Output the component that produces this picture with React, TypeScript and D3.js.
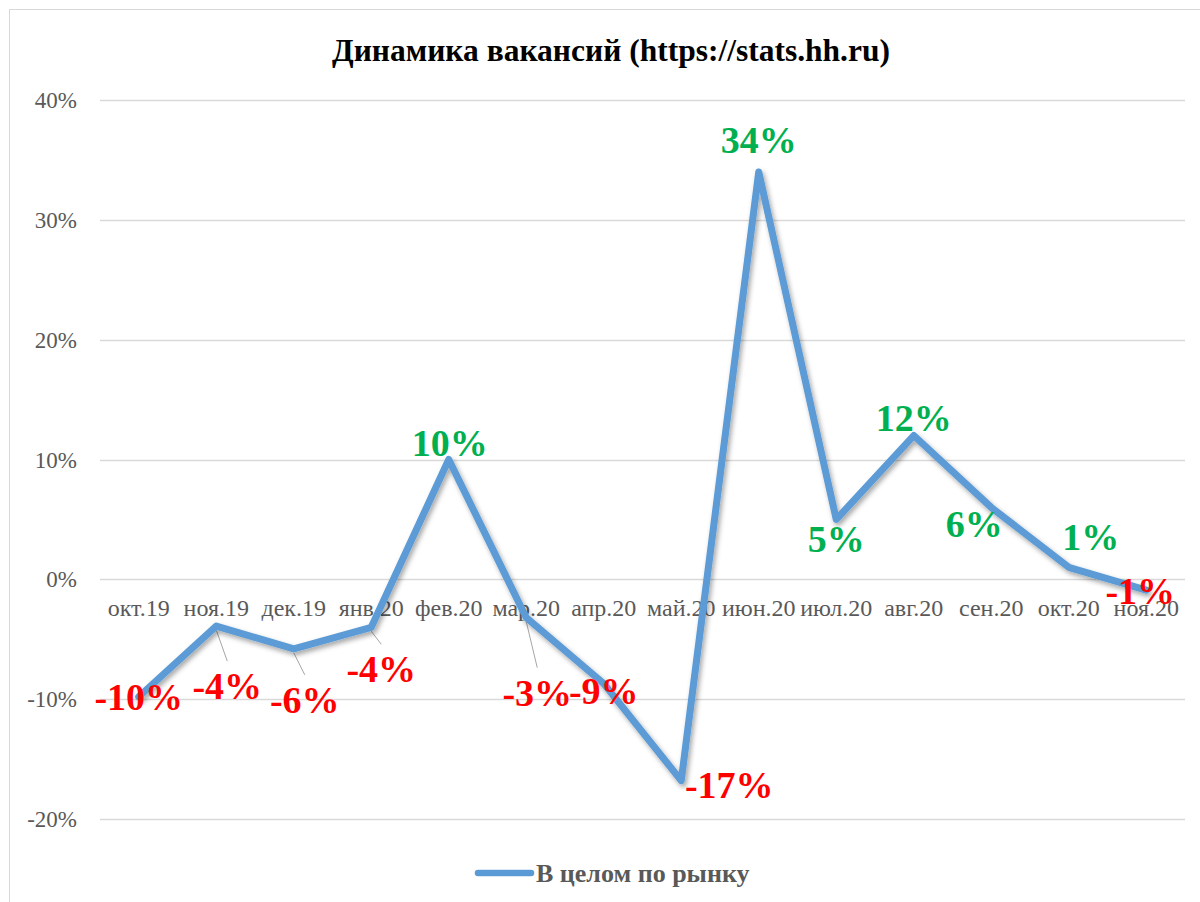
import React, { useEffect, useRef } from "react";
import * as d3 from "d3";

const months = [
  "окт.19", "ноя.19", "дек.19", "янв.20", "фев.20", "мар.20", "апр.20",
  "май.20", "июн.20", "июл.20", "авг.20", "сен.20", "окт.20", "ноя.20",
];
const values = [
  -0.098, -0.039, -0.058, -0.04, 0.1, -0.032, -0.087, -0.168, 0.34, 0.05, 0.12,
  0.06, 0.01, -0.009,
];
const yTicks = [-0.2, -0.1, 0, 0.1, 0.2, 0.3, 0.4];
const seriesName = "В целом по рынку";
const title = "Динамика вакансий (https://stats.hh.ru)";

// label placement relative to point: [dx, dy of baseline, leader line?]
const labelOffsets: [number, number, boolean][] = [
  [0, 13, false],
  [11, 73, true],
  [11, 64, true],
  [10, 55, true],
  [1, -4, false],
  [11, 88, true],
  [0, 20, false],
  [48, 17, false],
  [0, -19, false],
  [0, 33, false],
  [0, -5, false],
  [-17, 30, false],
  [22, -17, false],
  [-6, 14, false],
];

const App = () => {
  const ref = useRef<SVGSVGElement>(null);

  useEffect(() => {
    document.body.style.margin = "0";
    const width = 1200;
    const height = 902;
    const svg = d3.select(ref.current);
    svg.selectAll("*").remove();

    const font = "'Liberation Serif', 'Times New Roman', serif";

    const defs = svg.append("defs");
    const f = defs
      .append("filter")
      .attr("id", "shadow")
      .attr("x", "-10%")
      .attr("y", "-10%")
      .attr("width", "120%")
      .attr("height", "120%");
    f.append("feDropShadow")
      .attr("dx", 2)
      .attr("dy", 3)
      .attr("stdDeviation", 2.5)
      .attr("flood-color", "#000")
      .attr("flood-opacity", 0.35);

    svg
      .append("rect")
      .attr("width", width)
      .attr("height", height)
      .attr("fill", "#fff");
    svg
      .append("rect")
      .attr("x", 9.5)
      .attr("y", 9.5)
      .attr("width", width + 20)
      .attr("height", height + 20)
      .attr("fill", "none")
      .attr("stroke", "#d9d9d9");

    svg
      .append("text")
      .attr("x", 611)
      .attr("y", 61)
      .attr("text-anchor", "middle")
      .attr("font-family", font)
      .attr("font-weight", "bold")
      .attr("font-size", 31.5)
      .attr("fill", "#000")
      .text(title);

    const x = d3.scaleBand().domain(months).range([100, 1185]).padding(0);
    const y = d3.scaleLinear().domain([-0.2, 0.4]).range([819, 100]);
    const fmt = (v: number) => d3.format(".0%")(v).replace("−", "-");

    // gridlines
    svg
      .append("g")
      .selectAll("line")
      .data(yTicks)
      .join("line")
      .attr("x1", 100)
      .attr("x2", 1185)
      .attr("y1", (d) => Math.round(y(d)) + 0.5)
      .attr("y2", (d) => Math.round(y(d)) + 0.5)
      .attr("stroke", "#d9d9d9")
      .attr("stroke-width", 1.5);

    svg
      .append("g")
      .selectAll("text")
      .data(yTicks)
      .join("text")
      .attr("x", 77)
      .attr("y", (d) => y(d) + 8)
      .attr("text-anchor", "end")
      .attr("font-family", font)
      .attr("font-size", 23)
      .attr("fill", "#595959")
      .text((d) => fmt(d));

    svg
      .append("g")
      .selectAll("text")
      .data(months)
      .join("text")
      .attr("x", (d) => x(d)! + x.bandwidth() / 2)
      .attr("y", y(0) + 37)
      .attr("text-anchor", "middle")
      .attr("font-family", font)
      .attr("font-size", 24)
      .attr("fill", "#595959")
      .text((d) => d);

    const px = (i: number) => x(months[i])! + x.bandwidth() / 2;

    // leader lines
    svg
      .append("g")
      .selectAll("line")
      .data(values.map((v, i) => ({ v, i })).filter((d) => labelOffsets[d.i][2]))
      .join("line")
      .attr("x1", (d) => px(d.i))
      .attr("y1", (d) => y(d.v) + 4)
      .attr("x2", (d) => px(d.i) + labelOffsets[d.i][0])
      .attr("y2", (d) => y(d.v) + labelOffsets[d.i][1] - 38)
      .attr("stroke", "#a6a6a6")
      .attr("stroke-width", 1);

    const line = d3
      .line<number>()
      .x((d, i) => px(i))
      .y((d) => y(d));

    svg
      .append("path")
      .datum(values)
      .attr("d", line)
      .attr("fill", "none")
      .attr("stroke", "#5b9bd5")
      .attr("stroke-width", 7)
      .attr("stroke-linejoin", "round")
      .attr("stroke-linecap", "round")
      .attr("filter", "url(#shadow)");

    svg
      .append("g")
      .selectAll("text")
      .data(values)
      .join("text")
      .attr("x", (d, i) => px(i) + labelOffsets[i][0])
      .attr("y", (d, i) => y(d) + labelOffsets[i][1])
      .attr("text-anchor", "middle")
      .attr("font-family", font)
      .attr("font-weight", "bold")
      .attr("font-size", 38)
      .attr("fill", (d) => (d < 0 ? "#ff0000" : "#00b050"))
      .text((d) => fmt(d));

    // legend
    const lg = svg.append("g");
    lg.append("line")
      .attr("x1", 478)
      .attr("x2", 531)
      .attr("y1", 873)
      .attr("y2", 873)
      .attr("stroke", "#5b9bd5")
      .attr("stroke-width", 6.5)
      .attr("stroke-linecap", "round");
    lg.append("text")
      .attr("x", 536)
      .attr("y", 882)
      .attr("font-family", font)
      .attr("font-weight", "bold")
      .attr("font-size", 26)
      .attr("fill", "#595959")
      .text(seriesName);
  }, []);

  return <svg ref={ref} width={1200} height={902} style={{ display: "block" }} />;
};

export default App;
